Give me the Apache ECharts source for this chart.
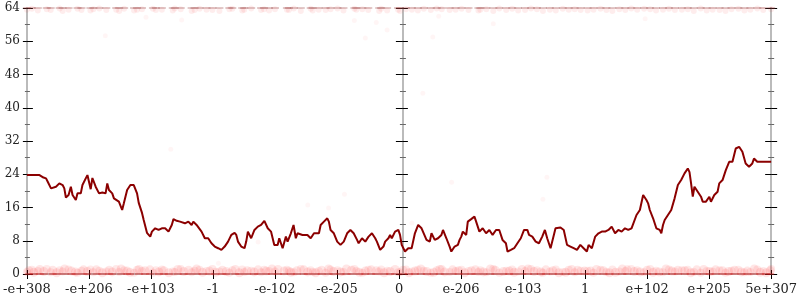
<!DOCTYPE html>
<html><head><meta charset="utf-8">
<script src="https://cdn.jsdelivr.net/npm/echarts@6/dist/echarts.min.js"></script>
<style>html,body{margin:0;padding:0;background:#fff}#c{width:800px;height:300px}</style>
</head><body><div id="c"></div>
<script>
const xTickLabels = ['-e+308','-e+206','-e+103','-1','-e-102','-e-205','0','e-206','e-103','1','e+102','e+205','5e+307'];
const yMin = 0, yMax = 64, yStep = 8;

const lineX = [0,12.7,14.3,16.7,19.3,21,24.3,26,29.3,32.7,36,37.7,39.3,42,44.3,46,47.7,49.3,51,54.3,56,59.3,61,62.7,64.3,66,67.7,69.3,72.7,76,79.3,81,82.7,84.3,86,87.7,89.3,92.7,96,97.7,101,104.3,107.7,109.3,111,112.7,116,117.7,121,124.3,126,129.3,132.7,136,139.3,142.7,144.3,146,147.7,151,154.3,159.3,162.7,166,167.7,171,172.7,176,179.3,182.7,186,189.3,192.7,196,199.3,202.7,206,209.3,211,212.7,216,219.3,221,222.7,226,229.3,232.7,236,239.3,242.7,246,249.3,252.7,
254.3,257.7,261,262.7,266,268.7,271,272.7,277.7,282.7,286,289.3,294.3,296,299.3,302.7,304.3,306,309.3,312.7,316,319.3,322.7,326,329.3,332.7,334.3,337.7,341,344.3,347.7,351,352.7,356,359.3,361,364.3,366,367.7,371,374.3,376,377.7,381,384.3,387.7,391,394.3,397.7,399.3,402.7,406,407.7,411,414.3,417.7,419.3,422.7,426,427.7,431,434.3,436,437.7,439.3,442.7,444.3,447.7,451,452.7,456,459.3,462.7,466,469.3,472.7,476,479.3,482.7,484.3,487.7,491,494.3,497.7,501,504.3,
506,509.3,512.7,516,519.3,522,524.3,527.7,529.3,532.7,537.7,541,544.3,547.7,551,554.3,557.7,561,564.3,566,569.3,572.7,576,579.3,582.7,586,589.3,592.7,596,599.3,602.7,606,609.3,611,614.3,617.7,621,624.3,626,627.7,631,634.3,637.7,639.3,641,642.7,646,649.3,652.7,656,659.3,662.7,666,667.7,669.3,671,672.7,676,679.3,681,684.3,687.7,689.3,692.7,696,697.7,701,704.3,707.7,711,714.3,717.7,721,724.3,727.7,731,732.7,736,742.7,750];
const lineY = [23.8,23.8,24.2,23.2,23.0,22.2,20.6,21.0,21.0,21.8,21.4,20.6,18.4,19.0,21.0,19.0,19.4,17.8,19.4,19.4,21.4,23.0,23.8,24.0,20.4,23.1,23.4,21.0,19.4,19.6,19.4,21.8,20.2,19.8,19.4,18.2,17.8,17.4,15.4,17.0,20.2,21.4,21.4,21.0,19.4,17.1,14.7,13.0,9.9,9.0,10.2,11.0,10.6,11.0,11.0,10.2,10.6,11.8,13.2,12.8,12.6,12.2,12.6,11.8,12.6,11.8,11.4,10.2,8.6,8.6,7.4,6.6,6.2,5.8,6.6,7.8,9.4,9.9,9.4,7.8,6.6,6.2,7.8,10.2,8.6,10.6,11.4,11.8,12.8,11.0,10.2,7.0,7.0,
8.6,6.2,9.0,7.8,9.8,11.8,8.6,9.8,9.4,9.4,8.6,9.8,9.8,11.8,12.6,13.4,12.6,10.6,9.8,7.8,7.0,7.8,9.8,10.6,9.8,8.2,7.4,8.6,7.8,9.0,9.8,8.6,7.8,5.8,6.6,7.8,8.6,9.4,8.6,10.2,10.6,9.4,7.0,5.4,6.2,6.2,9.8,11.8,11.0,10.6,8.2,7.8,9.8,8.2,8.6,9.4,10.6,8.6,6.6,5.4,6.6,7.0,8.2,9.0,10.2,9.4,12.6,13.2,13.8,12.6,10.2,11.0,9.8,10.6,9.4,10.6,10.6,8.2,7.4,5.4,5.8,6.2,7.4,8.6,10.6,10.6,
9.4,9.0,7.8,7.4,9.0,10.6,8.6,6.2,6.6,11.0,11.2,10.6,7.0,6.6,6.2,5.8,7.0,6.2,5.4,7.0,6.2,9.0,9.8,10.2,10.2,10.6,11.4,9.8,10.6,10.2,11.0,10.6,11.0,11.4,14.2,15.4,19.0,17.8,17.0,15.4,13.4,11.0,10.6,9.8,11.8,13.0,14.2,15.4,18.2,21.4,22.6,24.2,25.4,24.5,21.8,18.6,21.0,19.8,18.6,17.4,17.4,18.6,17.4,19.0,19.8,21.8,22.6,25.0,27.0,27.0,30.2,30.6,29.4,26.6,25.8,26.6,27.8,27.0,27.0,27.0];

const botX = [2,7,13,17,26,30,38,45,49,57,61,70,76,83,86,95,101,104,113,119,124,133,138,143,152,158,163,171,177,184,190,197,201,210,214,222,229,233,241,247,253,259,266,272,279,283,291,297,304,309,316,322,327,335,341,347,352,360,366,371,379,385,391,397,403,410,416,421,429,435,441,448,452,460,467,472,480,486,491,499,505,511,518,523,530,536,543,549,555,562,568,574,581,587,593,600,605,612,618,625,631,637,644,650,656,663,669,675,682,688,694,701,707,713,720,726,733,739,745,749];
const botY = [0.8,0.4,1.1,0.6,0.9,0.3,1.2,0.7,0.5,1.0,0.6,1.0,0.3,0.9,0.5,1.2,0.7,0.4,1.1,0.8,1.0,0.5,0.8,0.3,1.1,0.6,0.9,1.2,0.4,0.7,0.4,0.9,0.6,1.1,0.3,0.8,0.5,1.0,0.7,1.2,1.1,0.7,0.4,0.8,1.0,0.5,0.3,0.9,1.2,0.6,0.5,1.2,0.9,0.4,0.7,1.0,0.8,0.3,0.6,1.1,0.9,0.3,0.7,1.2,0.6,0.4,1.1,0.5,1.0,0.8,0.3,0.8,1.0,0.5,1.2,0.9,0.6,0.7,0.4,1.1,1.2,0.6,0.5,1.0,0.8,0.3,0.4,1.1,0.9,0.7,0.7,1.1,0.8,0.3,0.4,1.2,1.0,0.6,0.5,0.9,0.4,0.5,1.2,0.7,0.9,0.8,0.3,1.0,1.1,0.6,1.0,0.8,0.6,0.9,0.5,0.7,1.2,0.4,0.3,0.8];
const botY2 = [0.5,1.0,0.7,1.2,0.4,0.9,0.6,1.1,0.3,0.8,1.1,0.4,0.8,0.6,1.2,0.5,0.9,0.3,1.0,0.7,0.3,0.9,1.1,0.6,0.5,1.2,0.4,0.8,1.0,0.7,1.2,0.6,0.3,0.9,1.1,0.5,0.8,0.4,1.0,0.7,0.6,1.0,0.8,0.4,1.2,0.9,0.5,0.7,0.3,1.1,0.9,0.5,1.2,0.7,0.3,1.0,0.6,1.1,0.8,0.4,0.4,1.1,0.6,1.0,0.8,0.3,0.9,1.2,0.5,0.7,1.0,0.7,0.5,0.9,0.4,1.2,0.3,0.8,1.1,0.6,0.7,1.2,0.9,0.3,0.6,1.1,0.5,1.0,0.4,0.8,0.8,0.3,1.0,0.5,1.1,0.6,0.7,1.2,0.9,0.4,1.2,0.8,0.4,1.1,0.6,0.9,1.0,0.5,0.3,0.7,0.6,0.9,0.3,0.8,1.0,0.4,0.5,1.1,0.7,1.2];
const topX = [0,5,11,20,24,33,36,42,51,55,64,67,73,80,90,93,98,108,111,116,127,130,136,147,149,155,166,169,174,181,187,194,204,207,217,219,226,236,239,244,250,262,264,269,276,286,288,294,301,306,313,319,330,332,338,344,355,357,363,374,376,382,388,394,400,407,413,418,426,432,438,445,455,457,463,470,476,483,489,495,502,508,514,520,527,533,540,546,552,558,565,571,578,584,590,597,603,609,615,622,628,634,641,647,653,660,666,672,679,685,691,698,704,710,717,723,729,736,742,750];
const topY = [63.6,63.8,63.4,63.7,63.5,63.9,63.3,63.6,63.8,63.5,63.4,63.7,63.9,63.5,63.6,63.3,63.8,63.4,63.6,63.7,63.8,63.5,63.6,63.4,63.9,63.7,63.3,63.5,63.8,63.6,63.5,63.3,63.7,63.8,63.4,63.6,63.9,63.5,63.7,63.4,63.7,63.6,63.5,63.9,63.3,63.8,63.4,63.6,63.5,63.7,63.9,63.4,63.8,63.6,63.7,63.5,63.3,63.8,63.4,63.6,63.3,63.7,63.6,63.4,63.8,63.5,63.9,63.7,63.5,63.6,63.8,63.5,63.4,63.6,63.7,63.3,63.9,63.5,63.8,63.4,63.5,63.9,63.7,63.3,63.6,63.4,63.8,63.6,63.7,63.5,63.4,63.6,63.8,63.5,63.3,63.7,63.5,63.9,63.6,63.8,63.7,63.4,63.6,63.8,63.5,63.6,63.7,63.3,63.9,63.4,63.6,63.5,63.3,63.7,63.8,63.4,63.6,63.9,63.5,63.7];
const edgeLowY = 0, edgeHighY = 64;
const strayX = [79,156,145,524,520,283,304,320,428,388,341,363,409,399,623,193,233,330,352,415,470,120];
const strayY = [57.3,61.1,30.0,23.3,18.0,16.6,15.9,19.2,22.1,12.3,56.8,58.7,57.0,43.5,61.4,2.6,7.7,61.0,60.5,62.0,60.2,61.8];

const zip = (a, b) => a.map((v, i) => [v, b[i]]);
const flat = (a, y) => a.map(v => [v, y]);
const span = 750, step = 62.5;
const font = 'DejaVu Serif';

function yAx(opts) {
  return Object.assign({
    type: 'value', min: yMin, max: yMax, interval: yStep,
    splitLine: {show: false},
    axisLabel: {show: false},
    axisLine: {show: false},
    axisTick: {show: true, inside: false, length: 5, lineStyle: {color: '#000', width: 1}},
    minorTick: {show: true, splitNumber: 2, length: 3, lineStyle: {color: '#666', width: 1}}
  }, opts);
}
const grayLine = {show: true, onZero: false, lineStyle: {color: '#bbb', width: 2}};

const chart = echarts.init(document.getElementById('c'), null, {renderer: 'canvas'});
chart.setOption({
  animation: false,
  backgroundColor: '#fff',
  grid: {left: 24, right: 26, top: 8, bottom: 26, containLabel: false},
  xAxis: [
    {type: 'value', min: 0, max: span, interval: step, position: 'bottom',
     splitLine: {show: false}, axisLine: grayLine,
     axisTick: {show: true, length: 5, lineStyle: {color: '#000'}},
     axisLabel: {show: true, margin: 9, color: '#222', fontFamily: font, fontSize: 13,
       formatter: v => xTickLabels[Math.round(v / step)] || ''}},
    {type: 'value', min: 0, max: span, interval: step, position: 'bottom',
     splitLine: {show: false}, axisLine: {show: false}, axisLabel: {show: false},
     axisTick: {show: true, inside: true, length: 4, lineStyle: {color: '#000'}}}
  ],
  yAxis: [
    yAx({position: 'left', axisLine: grayLine,
         axisLabel: {show: true, margin: 7, color: '#222', fontFamily: font, fontSize: 12},
         axisTick: {show: true, length: 4, lineStyle: {color: '#000'}},
         minorTick: {show: true, splitNumber: 2, length: 2, lineStyle: {color: '#666'}}}),
    yAx({position: 'left', axisTick: {show: true, inside: true, length: 6, lineStyle: {color: '#000'}},
         minorTick: {show: true, splitNumber: 2, length: 3, lineStyle: {color: '#666'}}}),
    yAx({position: 'left', offset: -376, axisLine: grayLine,
         axisTick: {show: true, length: 7, lineStyle: {color: '#000'}}}),
    yAx({position: 'left', offset: -376,
         axisTick: {show: true, inside: true, length: 5, lineStyle: {color: '#000'}},
         minorTick: {show: true, inside: true, splitNumber: 2, length: 3, lineStyle: {color: '#666'}}}),
    yAx({position: 'right', axisLine: grayLine,
         axisTick: {show: true, length: 6, lineStyle: {color: '#000'}}}),
    yAx({position: 'right',
         axisTick: {show: true, inside: true, length: 6, lineStyle: {color: '#000'}},
         minorTick: {show: true, splitNumber: 2, length: 3, lineStyle: {color: '#666'}}})
  ],
  series: [
    {type: 'scatter', data: zip(botX, botY), symbolSize: 9, silent: true,
     itemStyle: {color: 'rgba(255,40,40,0.15)'}, z: 1},
    {type: 'scatter', data: zip(topX, botY2), symbolSize: 8, silent: true,
     itemStyle: {color: 'rgba(255,40,40,0.13)'}, z: 1},
    {type: 'scatter', data: flat(botX, edgeLowY), symbol: 'rect', symbolSize: [8, 2], silent: true,
     itemStyle: {color: 'rgba(215,30,30,0.45)'}, z: 2},
    {type: 'scatter', data: zip(topX, topY), symbolSize: 6, silent: true,
     itemStyle: {color: 'rgba(240,0,0,0.09)'}, z: 1},
    {type: 'scatter', data: flat(topX, edgeHighY), symbol: 'rect', symbolSize: [8, 2], silent: true,
     itemStyle: {color: 'rgba(150,60,60,0.35)'}, z: 2},
    {type: 'scatter', data: zip(strayX, strayY), symbolSize: 5, silent: true,
     itemStyle: {color: 'rgba(255,0,0,0.05)'}, z: 1},
    {type: 'line', data: zip(lineX, lineY), showSymbol: false, symbol: 'none',
     lineStyle: {color: '#8b0000', width: 2}, z: 5}
  ]
});
</script></body></html>
